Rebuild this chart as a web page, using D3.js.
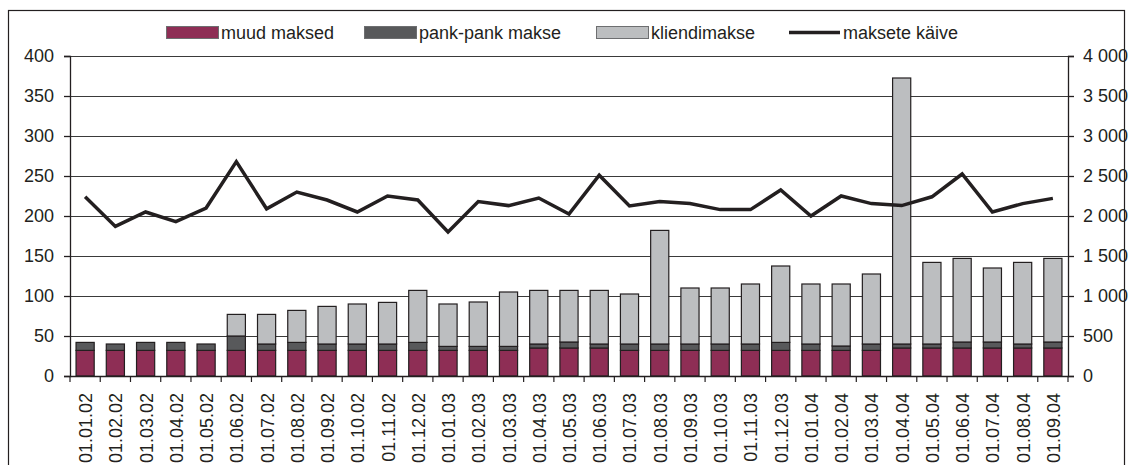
<!DOCTYPE html>
<html>
<head>
<meta charset="utf-8">
<script src="https://cdn.jsdelivr.net/npm/d3@7"></script>
<style>
  body { margin: 0; background: #fff; }
  text { font-family: "Liberation Sans", Arial, sans-serif; fill: #231f20; }
</style>
</head>
<body>
<svg></svg>
<script>
var width = 1129, height = 465;
var margin = {left: 70, right: 61, top: 56, bottom: 89};
var fontSize = "18px";

var categories = ["01.01.02","01.02.02","01.03.02","01.04.02","01.05.02","01.06.02","01.07.02","01.08.02",
  "01.09.02","01.10.02","01.11.02","01.12.02","01.01.03","01.02.03","01.03.03","01.04.03","01.05.03",
  "01.06.03","01.07.03","01.08.03","01.09.03","01.10.03","01.11.03","01.12.03","01.01.04","01.02.04",
  "01.03.04","01.04.04","01.05.04","01.06.04","01.07.04","01.08.04","01.09.04"];

var muudMaksed = [32,32,32,32,32,32,32,32,32,32,32,32,32,32,32,35,35,35,32,32,32,32,32,32,32,32,32,35,35,35,35,35,35];
var pankPank = [10,8,10,10,8,18,8,10,8,8,8,10,5,5,5,5,7.5,5,8,8,8,8,8,10,8,5.5,8,5,5,7.5,7.5,5,7.5];
var kliendimakse = [0,0,0,0,0,27,37,40,47,50,52,65,53,55.5,68,67,64.5,67,62.5,142,70,70,75,95.5,75,77.5,
  87.5,332.5,102,104.5,92.5,102,104.5];
var maksetekaive = [2240,1870,2050,1930,2100,2680,2090,2300,2200,2050,2250,2200,1800,2180,2130,2225,2025,
  2510,2125,2180,2155,2080,2080,2325,2000,2250,2155,2130,2240,2525,2050,2155,2220];

var leftTicks = [0,50,100,150,200,250,300,350,400];
var rightTicks = [0,500,1000,1500,2000,2500,3000,3500,4000];

var seriesNames = ["muud maksed","pank-pank makse","kliendimakse"];
var seriesColors = ["#8e2e55","#58595b","#bcbec0"];

var table = categories.map((c, i) => ({
  cat: c,
  "muud maksed": muudMaksed[i],
  "pank-pank makse": pankPank[i],
  "kliendimakse": kliendimakse[i],
  kaive: maksetekaive[i]
}));

var svg = d3.select("svg").attr("width", width).attr("height", height);

// outer frame
svg.append("rect")
  .attr("x", 8.5).attr("y", 10.5)
  .attr("width", 1116).attr("height", 480)
  .attr("fill", "none").attr("stroke", "#231f20").attr("stroke-width", 1.2);

var xScale = d3.scaleBand()
  .domain(categories)
  .range([margin.left, width - margin.right])
  .paddingInner(0.4).paddingOuter(0.2);

var yScale = d3.scaleLinear().domain([0, 400]).range([376, 56]);
var y2Scale = d3.scaleLinear().domain([0, 4000]).range([376, 56]);

// gridlines
svg.append("g")
  .selectAll("line")
  .data(leftTicks.filter(d => d > 0))
  .enter()
  .append("line")
  .attr("x1", margin.left).attr("x2", width - margin.right)
  .attr("y1", d => Math.round(yScale(d)) + 0.5)
  .attr("y2", d => Math.round(yScale(d)) + 0.5)
  .attr("stroke", "#3a3a3a").attr("stroke-width", 1);

// stacked bars
var stack = d3.stack().keys(seriesNames)(table);
svg.append("g")
  .selectAll("g")
  .data(stack)
  .enter()
  .append("g")
  .attr("fill", (d, i) => seriesColors[i])
  .selectAll("rect")
  .data(d => d.filter(p => p[1] - p[0] > 0))
  .enter()
  .append("rect")
  .attr("x", d => xScale(d.data.cat))
  .attr("width", xScale.bandwidth())
  .attr("y", d => yScale(d[1]))
  .attr("height", d => yScale(d[0]) - yScale(d[1]))
  .attr("stroke", "#231f20")
  .attr("stroke-width", 1.2);

// x axis
var xAxis = d3.axisBottom(xScale).tickSize(0).tickFormat("");
var gx = svg.append("g")
  .attr("transform", "translate(0,376)")
  .call(xAxis);
gx.select(".domain").attr("stroke", "#231f20").attr("stroke-width", 1.3);

// x ticks at category boundaries
var bounds = d3.range(categories.length + 1).map(i => margin.left + i * xScale.step());
svg.append("g")
  .selectAll("line")
  .data(bounds)
  .enter()
  .append("line")
  .attr("x1", d => d).attr("x2", d => d)
  .attr("y1", 376).attr("y2", 382)
  .attr("stroke", "#231f20").attr("stroke-width", 1.2);

// x labels
svg.append("g")
  .selectAll("text")
  .data(categories)
  .enter()
  .append("text")
  .attr("transform", d => "translate(" + (xScale(d) + xScale.bandwidth() / 2 + 7) + ",393) rotate(-90)")
  .attr("text-anchor", "end")
  .style("font-size", fontSize)
  .text(d => d);

var yAxis = d3.axisLeft(yScale).tickValues(leftTicks).tickSize(6).tickPadding(10);
var gy = svg.append("g")
  .attr("transform", "translate(" + margin.left + ",0)")
  .call(yAxis);
gy.selectAll("text").style("font-size", fontSize).attr("fill", "#231f20")
  .style("font-family", "'Liberation Sans', Arial, sans-serif");
gy.selectAll("line, path").attr("stroke", "#231f20").attr("stroke-width", 1.3);

var fmt = d => d3.format(",")(d).replace(/,/g, " ");
var y2Axis = d3.axisRight(y2Scale).tickValues(rightTicks).tickSize(6).tickPadding(9).tickFormat(fmt);
var gy2 = svg.append("g")
  .attr("transform", "translate(" + (width - margin.right) + ",0)")
  .call(y2Axis);
gy2.selectAll("text").style("font-size", fontSize).attr("fill", "#231f20")
  .style("font-family", "'Liberation Sans', Arial, sans-serif");
gy2.selectAll("line, path").attr("stroke", "#231f20").attr("stroke-width", 1.3);

// line
var line = d3.line()
  .x(d => xScale(d.cat) + xScale.bandwidth() / 2)
  .y(d => y2Scale(d.kaive));
svg.append("path")
  .datum(table)
  .attr("d", line)
  .attr("fill", "none")
  .attr("stroke", "#231f20")
  .attr("stroke-width", 3.5)
  .attr("stroke-linejoin", "miter");

// legend
var legendItems = [
  {name: "muud maksed", x: 166, w: 52, type: "rect", color: seriesColors[0]},
  {name: "pank-pank makse", x: 364, w: 52, type: "rect", color: seriesColors[1]},
  {name: "kliendimakse", x: 596, w: 52, type: "rect", color: seriesColors[2]},
  {name: "maksete käive", x: 789, w: 51, type: "line", color: "#231f20"}
];
var lg = svg.append("g").selectAll("g")
  .data(legendItems)
  .enter()
  .append("g");
lg.filter(d => d.type === "rect")
  .append("rect")
  .attr("x", d => d.x + 0.5).attr("y", 26.5)
  .attr("width", d => d.w).attr("height", 12)
  .attr("fill", d => d.color)
  .attr("stroke", "#6d6e70").attr("stroke-width", 1);
lg.filter(d => d.type === "line")
  .append("line")
  .attr("x1", d => d.x).attr("x2", d => d.x + d.w)
  .attr("y1", 32.5).attr("y2", 32.5)
  .attr("stroke", d => d.color).attr("stroke-width", 3.5);
lg.append("text")
  .attr("x", d => d.x + d.w + 3)
  .attr("y", 38.5)
  .style("font-size", fontSize)
  .text(d => d.name);
</script>
</body>
</html>
